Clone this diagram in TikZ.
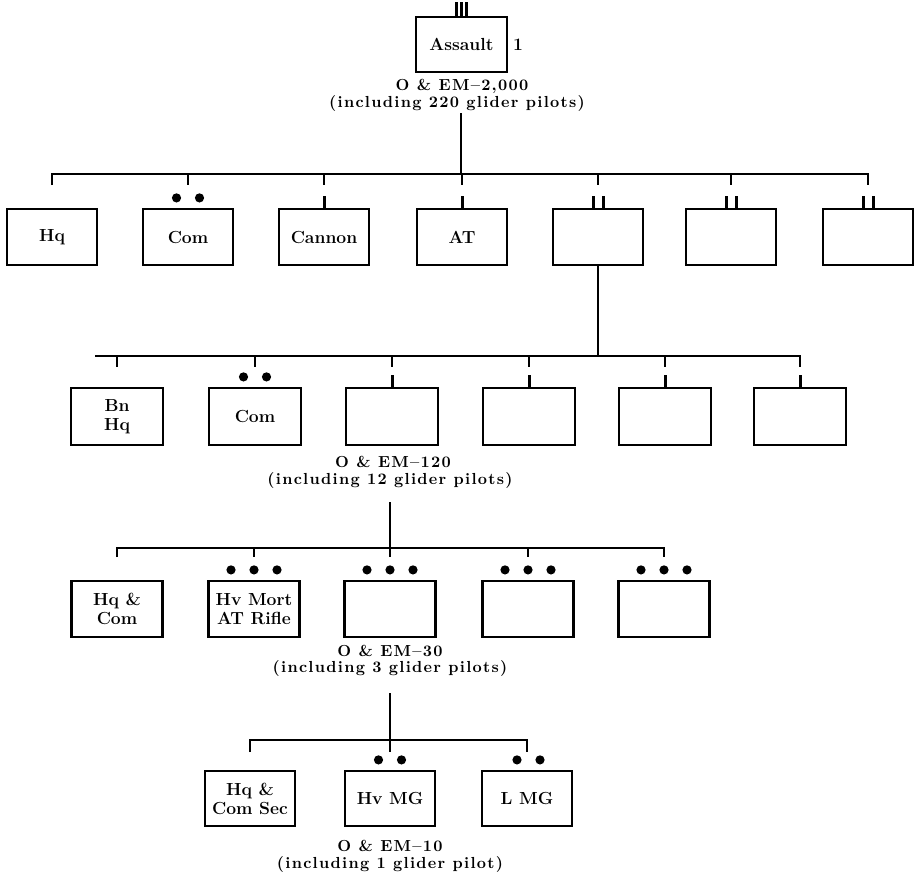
\documentclass[tikz,border=0pt]{standalone}
\usepackage{fontspec}
\newfontfamily\lblfam[LetterSpace=8]{lmroman10-bold.otf}
\newcommand\ubfont{\fontsize{17.5}{19}\selectfont\bfseries}
\newcommand\lbfont{\lblfam\fontsize{16}{18}\selectfont}
\begin{document}
\begin{tikzpicture}[x=1pt,y=-1pt,
  unit/.style={draw, line width=2.2pt, minimum width=90pt, minimum height=56pt, inner sep=0pt, font=\ubfont, align=center},
  bus/.style={line width=2pt, line join=miter},
  lbl/.style={font=\lbfont, inner sep=0pt},
  symI/.pic={\draw[line width=3pt] (0,0) -- (0,-12);},
  symII/.pic={\draw[line width=3pt] (-5,0) -- (-5,-12) (5,0) -- (5,-12);},
  symIII/.pic={\draw[line width=2.6pt] (-5,0) -- (-5,-14) (0,0) -- (0,-14) (5,0) -- (5,-14);},
  dotsII/.pic={\fill (-11.5,-10) circle (4.6) (11.5,-10) circle (4.6);},
  dotsIII/.pic={\fill (-23,-10) circle (4.6) (0,-10) circle (4.6) (23,-10) circle (4.6);}]
\useasboundingbox (0,0) rectangle (919,884);

% top unit
\node[unit, minimum width=91pt, minimum height=55pt] (top) at (461.5,44.5) {Assault};
\pic at (top.north) {symIII};
\node[font=\ubfont, anchor=west, inner sep=0pt] (one) at (513,45) {1};
\node[lbl] (topA) at (462,86) {O \& EM\textendash2,000};
\node[lbl] (topB) at (457,103) {(including 220 glider pilots)};

% row 1
\node[unit] (r1a) at (52,237) {Hq};
\node[unit] (r1b) at (188,237) {Com};
\node[unit] (r1c) at (324,237) {Cannon};
\node[unit] (r1d) at (462,237) {AT};
\node[unit] (r1e) at (598,237) {};
\node[unit] (r1f) at (731,237) {};
\node[unit] (r1g) at (868,237) {};
\pic at (r1b.north) {dotsII};
\pic at (r1c.north) {symI};
\pic at (r1d.north) {symI};
\pic at (r1e.north) {symII};
\pic at (r1f.north) {symII};
\pic at (r1g.north) {symII};

\coordinate (b1) at (461,174);
\coordinate (v1) at (461,113);
\draw[bus] ([yshift=-11pt]r1a.north |- b1) -- (r1a.north |- b1) -- (r1g.north |- b1) -- ([yshift=-11pt]r1g.north |- b1);
\foreach \n in {r1b,r1c,r1d,r1e,r1f}
  \draw[bus] (\n.north |- b1) -- ([yshift=-11pt]\n.north |- b1);
\draw[bus] (v1) -- (b1);

% row 2
\node[unit, minimum width=92pt, minimum height=57pt] (r2a) at (117,416.5) {Bn\\Hq};
\node[unit, minimum width=92pt, minimum height=57pt] (r2b) at (255,416.5) {Com};
\node[unit, minimum width=92pt, minimum height=57pt] (r2c) at (392,416.5) {};
\node[unit, minimum width=92pt, minimum height=57pt] (r2d) at (529,416.5) {};
\node[unit, minimum width=92pt, minimum height=57pt] (r2e) at (665,416.5) {};
\node[unit, minimum width=92pt, minimum height=57pt] (r2f) at (800,416.5) {};
\pic at (r2b.north) {dotsII};
\foreach \n in {r2c,r2d,r2e,r2f} \pic at (\n.north) {symI};

\coordinate (b2) at (95,356);
\draw[bus] (b2) -- (r2f.north |- b2) -- ([yshift=-11pt]r2f.north |- b2);
\foreach \n in {r2a,r2b,r2c,r2d,r2e}
  \draw[bus] (\n.north |- b2) -- ([yshift=-11pt]\n.north |- b2);
\draw[bus] (r1e.south) -- (r1e.south |- b2);

\node[lbl] (r2A) at (393,462) {O \& EM\textendash120};
\node[lbl] (r2B) at (390,480) {(including 12 glider pilots)};

% row 3
\node[unit, minimum width=91pt] (r3a) at (117,609) {Hq \&\\Com};
\node[unit, minimum width=91pt] (r3b) at (254,609) {Hv Mort\\AT Rifle};
\node[unit, minimum width=91pt] (r3c) at (390,609) {};
\node[unit, minimum width=91pt] (r3d) at (528,609) {};
\node[unit, minimum width=91pt] (r3e) at (664,609) {};
\foreach \n in {r3b,r3c,r3d,r3e} \pic at (\n.north) {dotsIII};

\coordinate (b3) at (390,548);
\coordinate (v3) at (390,502);
\draw[bus] ([yshift=-9pt]r3a.north |- b3) -- (r3a.north |- b3) -- (r3e.north |- b3) -- ([yshift=-9pt]r3e.north |- b3);
\foreach \n in {r3b,r3c,r3d}
  \draw[bus] (\n.north |- b3) -- ([yshift=-9pt]\n.north |- b3);
\draw[bus] (v3) -- (b3);

\node[lbl] (r3A) at (390,651) {O \& EM\textendash30};
\node[lbl] (r3B) at (390,668) {(including 3 glider pilots)};

% row 4
\node[unit, minimum height=55pt] (r4a) at (250,798.5) {Hq \&\\Com Sec};
\node[unit, minimum height=55pt] (r4b) at (390,798.5) {Hv MG};
\node[unit, minimum height=55pt] (r4c) at (527,798.5) {L MG};
\pic at (r4b.north) {dotsII};
\pic at ([xshift=1.5pt]r4c.north) {dotsII};

\coordinate (b4) at (390,740);
\coordinate (v4) at (390,693);
\draw[bus] ([yshift=-12pt]r4a.north |- b4) -- (r4a.north |- b4) -- (r4c.north |- b4) -- ([yshift=-12pt]r4c.north |- b4);
\draw[bus] (v4) -- ([yshift=-12pt]b4);

\node[lbl] (r4A) at (390,846) {O \& EM\textendash10};
\node[lbl] (r4B) at (390,864) {(including 1 glider pilot)};
\end{tikzpicture}
\end{document}
